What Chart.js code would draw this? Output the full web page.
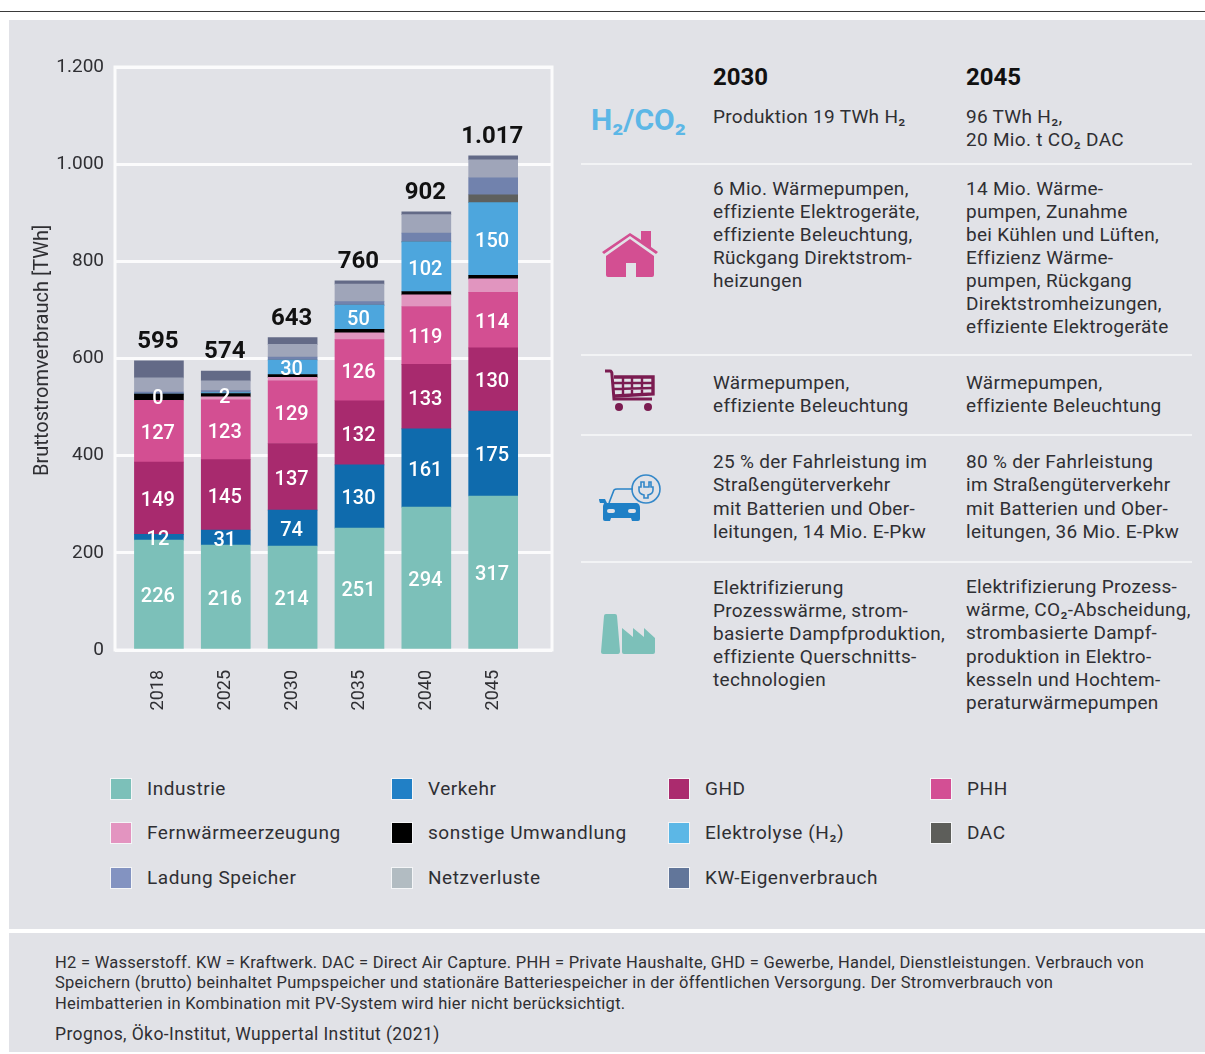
<!DOCTYPE html>
<html lang="de">
<head>
<meta charset="utf-8">
<title>Bruttostromverbrauch</title>
<script src="https://cdn.jsdelivr.net/npm/chart.js@4"></script>
<style>
html,body{margin:0;padding:0;background:#fff;width:1205px;height:1054px;overflow:hidden}
body{position:relative;font-family:Roboto,sans-serif;color:#2c2c30}
.abs{position:absolute}
#topline{left:0;top:11px;width:1205px;height:1px;background:#3a3a3a}
.panel{background:#e1e2e7;left:9px;width:1196px}
#p1{top:20px;height:909px}
#p2{top:933px;height:119px}
canvas{position:absolute;left:0;top:0}
.t{position:absolute;white-space:nowrap;font-size:19px;letter-spacing:.3px;line-height:24px;transform:translateY(-50%);font-weight:400;color:#2f2f33}
.h{font-weight:700;font-size:24px;letter-spacing:0;color:#111}
.sep{position:absolute;left:581px;width:611px;height:2px;background:#f2f3f5}
.sw{position:absolute;width:20px;height:20px;border:1px solid #f4f5f7}
.f{position:absolute;left:55px;white-space:nowrap;font-size:16.5px;letter-spacing:.27px;line-height:20px;transform:translateY(-50%);color:#2f2f33}
svg{position:absolute}
</style>
</head>
<body>
<div class="abs" id="topline"></div>
<div class="abs panel" id="p1"></div>
<div class="abs panel" id="p2"></div>
<canvas id="c" width="570" height="730"></canvas>
<div id="txt"></div>

<svg style="left:600px;top:228px" width="60" height="52" viewBox="0 0 60 52">
 <path d="M2 24 L30 5 L41 12 L41 3 L51 3 L51 19 L58 24 L56 26 L30 8 L4 26Z" fill="#d34f92"/>
 <path d="M6 28 L30 11 L54 28 L54 47 Q54 49 52 49 L36 49 L36 35 L26 35 L26 49 L8 49 Q6 49 6 47Z" fill="#d34f92"/>
</svg>
<svg style="left:602px;top:368px" width="54" height="46" viewBox="0 0 54 46">
 <g stroke="#7b1c51" fill="none" stroke-width="3">
  <path d="M3 3 L8 3 Q10 3 10 7 L12 31 L50 31"/>
  <path d="M12 9 L51 9 L51 26 L13 28" stroke-width="3.4"/>
  <path d="M12 15 L51 15 M12 21 L51 20 M21 9 L21 28 M30 9 L30 27 M40 9 L40 27" stroke-width="2.4"/>
 </g>
 <circle cx="17" cy="39" r="4" fill="#7b1c51"/><circle cx="46" cy="39" r="4" fill="#7b1c51"/>
</svg>
<svg style="left:597px;top:470px" width="68" height="54" viewBox="0 0 68 54">
 <circle cx="49" cy="19" r="14" fill="none" stroke="#3488c9" stroke-width="1.6"/>
 <path d="M44 12v5h-2v3q0 4 5 5l0 3h4v-3q5-1 5-5v-3h-2v-5h-2v5h-5v-5z" fill="none" stroke="#3488c9" stroke-width="1.6"/>
 <path d="M12 33 L17 20 Q18 19 20 19 L36 19" fill="none" stroke="#2a84c8" stroke-width="1.6"/>
 <path d="M2 29 L8 29 L10 33 L40 33 Q43 34 43 38 L43 49 Q43 51 41 51 L35 51 L34 48 L14 48 L13 51 L8 51 Q6 51 6 49 L6 36 L7 33 L3 33 Q2 31 2 29Z" fill="#1f80c6"/>
 <rect x="10" y="39" width="8" height="4" rx="2" fill="#e1e2e7"/><rect x="31" y="39" width="8" height="4" rx="2" fill="#e1e2e7"/>
</svg>
<svg style="left:600px;top:612px" width="58" height="44" viewBox="0 0 58 44">
 <path d="M6 2 L15 2 Q17 2 17 4 L20 39 Q20 42 18 42 L3 42 Q1 42 1 40 L4 4 Q4 2 6 2Z" fill="#7cc0b9"/>
 <path d="M22 16 L33 25 L33 16 L44 25 L44 16 L55 26 L55 40 Q55 42 53 42 L24 42 Q22 42 22 40Z" fill="#7cc0b9"/>
</svg>

<script>
// ---- data -------------------------------------------------------------
const categories = ["2018","2025","2030","2035","2040","2045"];
const totals     = [595,574,643,760,902,1017];
const yTicks     = [0,200,400,600,800,1000,1200];
const Industrie  = [226,216,214,251,294,317];
const Verkehr    = [12,31,74,130,161,175];
const GHD        = [149,145,137,132,133,130];
const PHH        = [127,123,129,126,119,114];
const Fernwaerme = [0,6,7,14,24,28];
const Sonstige   = [13,7,6,7,7,7];
const Elektrolyse= [0,2,30,50,102,150];
const DAC        = [0,0,0,0,0,16];
const Ladung     = [4,4,6,7,18,35];
const Netzverl   = [29,20,26,36,38,37];
const KWEigen    = [35,20,14,7,6,8];

const seriesNames = ["Industrie","Verkehr","GHD","PHH","Fernwärmeerzeugung","sonstige Umwandlung","Elektrolyse (H₂)","DAC","Ladung Speicher","Netzverluste","KW-Eigenverbrauch"];
const seriesData  = [Industrie,Verkehr,GHD,PHH,Fernwaerme,Sonstige,Elektrolyse,DAC,Ladung,Netzverl,KWEigen];
const barColors   = ["#7cc0b9","#0f6bad","#a82a6e","#d34f92","#e195bf","#000000","#4da6dd","#5e605e","#7182ad","#9fa5b9","#636a87"];
const swatchColors= ["#7cc0b9","#2180c6","#ab2b6e","#d34f94","#e394c0","#000000","#5cb7e6","#5d5e5a","#8393c1","#b2bcc2","#62769a"];
const labelledSeries = ["Industrie","Verkehr","GHD","PHH","Elektrolyse (H₂)"];
const yTitle = "Bruttostromverbrauch [TWh]";

const deNum = v => String(v).replace(/\B(?=(\d{3})+$)/g,".");
const FONT = "Roboto, sans-serif";

const valueLabels = {
  id:"valueLabels",
  afterDatasetsDraw(chart){
    const ctx = chart.ctx;
    ctx.save();
    ctx.textAlign="center"; ctx.textBaseline="middle";
    chart.data.datasets.forEach((ds,di)=>{
      if(!labelledSeries.includes(ds.label)) return;
      chart.getDatasetMeta(di).data.forEach((el,i)=>{
        const v = ds.data[i].y;
        ctx.fillStyle="#fff"; ctx.font="500 20px "+FONT;
        ctx.fillText(String(v), el.x-1, (el.y+el.base)/2 + (v<5?5:3));
      });
    });
    const last = chart.getDatasetMeta(chart.data.datasets.length-1).data;
    ctx.fillStyle="#111"; ctx.font="700 24px "+FONT;
    last.forEach((el,i)=>ctx.fillText(deNum(totals[i]), el.x-1, chart.scales.y.getPixelForValue(totals[i])-19));
    // vertical axis title, centred where the original has it
    ctx.translate(43, chart.scales.y.getPixelForValue(617));
    ctx.rotate(-Math.PI/2);
    ctx.fillStyle="#2f2f33"; ctx.font="400 20px "+FONT;
    ctx.fillText(yTitle,0,0);
    ctx.restore();
  }
};
const frame = {
  id:"frame",
  beforeDatasetsDraw(chart){
    const a = chart.chartArea, ctx = chart.ctx;
    ctx.save(); ctx.strokeStyle="#fbfbfc"; ctx.lineWidth=3;
    ctx.strokeRect(a.left,a.top,a.right-a.left,a.bottom-a.top);
    ctx.restore();
  }
};

new Chart(document.getElementById("c"),{
  type:"bar",
  data:{datasets:seriesNames.map((n,k)=>({
    label:n,
    data:seriesData[k].map((v,i)=>({x:i,y:v})),
    backgroundColor:barColors[k],
    borderWidth:0,
    barThickness:49
  }))},
  plugins:[frame,valueLabels],
  options:{
    responsive:false,animation:false,
    layout:{padding:{left:30,right:18,top:67,bottom:0}},
    plugins:{legend:{display:false},tooltip:{enabled:false}},
    scales:{
      x:{
        type:"linear",stacked:true,offset:false,min:-0.657,max:5.88,
        grid:{display:false,offset:false},border:{display:false},
        afterBuildTicks(s){s.ticks=categories.map((c,i)=>({value:i}));},
        afterFit(s){s.height=80;},
        ticks:{
          autoSkip:false,minRotation:90,maxRotation:90,padding:12,
          color:"#2f2f33",font:{family:FONT,size:18},
          callback:v=>categories[v]
        }
      },
      y:{
        stacked:true,min:0,max:1200,
        afterBuildTicks(s){s.ticks=yTicks.map(v=>({value:v}));},
        afterFit(s){s.width=85;},
        grid:{color:"#fbfbfc",lineWidth:3,drawTicks:false},
        border:{display:false},
        ticks:{color:"#2f2f33",font:{family:FONT,size:19},padding:11,callback:v=>deNum(v)}
      }
    }
  }
});

// ---- text --------------------------------------------------------------
const txt = document.getElementById("txt");
function put(cls,x,y,s,extra){
  const d=document.createElement("div");d.className=cls;d.style.left=x+"px";d.style.top=y+"px";d.textContent=s;
  if(extra)d.style.cssText+=extra;txt.appendChild(d);
}
function block(x,y,lines,step){lines.forEach((l,i)=>put("t",x,y+i*step,l));}
put("t h",713,77,"2030");put("t h",966,77,"2045");
put("t",591,120,"H₂/CO₂","font-size:30px;font-weight:700;letter-spacing:0;color:#5cb7e6");
block(713,117,["Produktion 19 TWh H₂"],23);
block(966,117,["96 TWh H₂,","20 Mio. t CO₂ DAC"],23);
block(713,189,["6 Mio. Wärmepumpen,","effiziente Elektrogeräte,","effiziente Beleuchtung,","Rückgang Direktstrom-","heizungen"],23);
block(966,189,["14 Mio. Wärme-","pumpen, Zunahme","bei Kühlen und Lüften,","Effizienz Wärme-","pumpen, Rückgang","Direktstromheizungen,","effiziente Elektrogeräte"],23);
block(713,383,["Wärmepumpen,","effiziente Beleuchtung"],23);
block(966,383,["Wärmepumpen,","effiziente Beleuchtung"],23);
block(713,462,["25 % der Fahrleistung im","Straßengüterverkehr","mit Batterien und Ober-","leitungen, 14 Mio. E-Pkw"],23.3);
block(966,462,["80 % der Fahrleistung","im Straßengüterverkehr","mit Batterien und Ober-","leitungen, 36 Mio. E-Pkw"],23.3);
block(713,588,["Elektrifizierung","Prozesswärme, strom-","basierte Dampfproduktion,","effiziente Querschnitts-","technologien"],23);
block(966,587,["Elektrifizierung Prozess-","wärme, CO₂-Abscheidung,","strombasierte Dampf-","produktion in Elektro-","kesseln und Hochtem-","peraturwärmepumpen"],23.2);
[163,354,434,561].forEach(y=>{const d=document.createElement("div");d.className="sep";d.style.top=y+"px";txt.appendChild(d);});

// legend, in reading order of the original
const colX=[110,391,668,930], rowY=[778,822,867];
seriesNames.forEach((name,k)=>{
  const col=k%4,row=Math.floor(k/4);
  const s=document.createElement("div");s.className="sw";
  s.style.left=colX[col]+"px";s.style.top=rowY[row]+"px";s.style.background=swatchColors[k];txt.appendChild(s);
  put("t",colX[col]+37,rowY[row]+10.5,name,"font-size:19px;letter-spacing:.55px");
});

[["H2 = Wasserstoff. KW = Kraftwerk. DAC = Direct Air Capture. PHH = Private Haushalte, GHD = Gewerbe, Handel, Dienstleistungen. Verbrauch von",963],
 ["Speichern (brutto) beinhaltet Pumpspeicher und stationäre Batteriespeicher in der öffentlichen Versorgung. Der Stromverbrauch von",983],
 ["Heimbatterien in Kombination mit PV-System wird hier nicht berücksichtigt.",1004]].forEach(a=>put("f",55,a[1],a[0]));
put("f",55,1034,"Prognos, Öko-Institut, Wuppertal Institut (2021)","font-size:17.5px;letter-spacing:.4px");
</script>
</body>
</html>
